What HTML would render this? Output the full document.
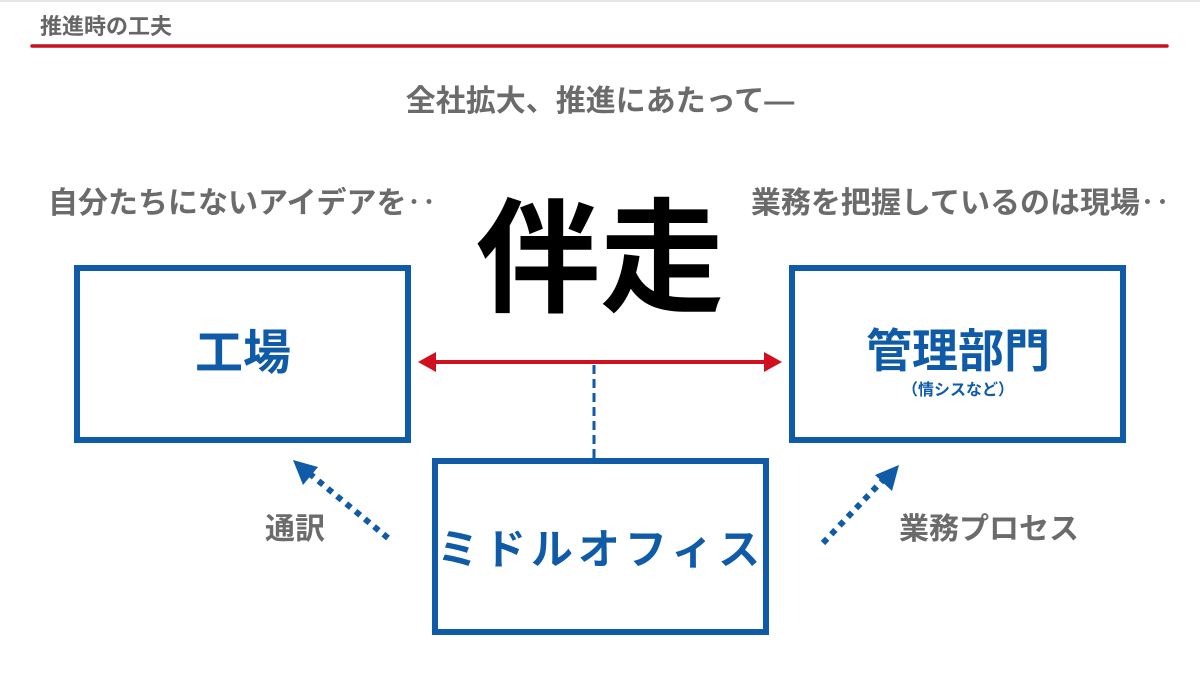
<!DOCTYPE html>
<html><head><meta charset="utf-8"><style>
html,body{margin:0;padding:0;background:#fff;}
svg{display:block;font-family:"Liberation Sans","Noto Sans CJK JP",sans-serif;}
</style></head><body>
<svg width="1200" height="675" viewBox="0 0 1200 675" xmlns="http://www.w3.org/2000/svg">
<rect x="0" y="0" width="1200" height="675" fill="#fff"/>
<line x1="0" y1="1" x2="1200" y2="1" stroke="#e6e6e6" stroke-width="2"/>
<text x="40" y="34" font-size="22" font-weight="bold" fill="#666">推進時の工夫</text>
<line x1="32" y1="46" x2="1167" y2="46" stroke="#c8101e" stroke-width="3.5" stroke-linecap="round"/>
<text x="600" y="111" font-size="30" font-weight="bold" fill="#6b6b6b" text-anchor="middle">全社拡大、推進にあたって―</text>
<text x="48" y="213" font-size="30" font-weight="bold" fill="#6b6b6b">自分たちにないアイデアを‥</text>
<text x="1170" y="213" font-size="30" font-weight="bold" fill="#6b6b6b" text-anchor="end">業務を把握しているのは現場‥</text>
<text x="600" y="302" font-size="124" font-weight="bold" fill="#000" text-anchor="middle">伴走</text>
<g fill="none" stroke="#0f5ba8" stroke-width="6">
<rect x="77" y="268" width="331" height="172"/>
<rect x="792" y="268" width="331" height="172"/>
<rect x="435" y="461" width="331" height="171"/>
</g>
<line x1="433" y1="362" x2="767" y2="362" stroke="#d0101e" stroke-width="4"/>
<polygon points="418,362 436,352 436,372" fill="#d0101e"/>
<polygon points="782,362 764,352 764,372" fill="#d0101e"/>
<line x1="594" y1="365" x2="594" y2="459" stroke="#0f5ba8" stroke-width="3" stroke-dasharray="9,5"/>
<line x1="388" y1="538" x2="310" y2="474" stroke="#0f5ba8" stroke-width="6" stroke-dasharray="6,6"/>
<polygon points="293,460 318,467 303,485" fill="#0f5ba8"/>
<line x1="823" y1="543" x2="882" y2="481" stroke="#0f5ba8" stroke-width="6" stroke-dasharray="6,6"/>
<polygon points="899,465 892,491 875,475" fill="#0f5ba8"/>
<text x="243" y="369" font-size="48" font-weight="bold" fill="#0f5ba8" text-anchor="middle">工場</text>
<text x="958" y="367" font-size="46" font-weight="bold" fill="#0f5ba8" text-anchor="middle">管理部門</text>
<text x="958" y="395" font-size="16" font-weight="bold" fill="#0f5ba8" text-anchor="middle">（情シスなど）</text>
<text x="601" y="564" font-size="42" font-weight="bold" fill="#0f5ba8" text-anchor="middle" letter-spacing="5">ミドルオフィス</text>
<text x="295" y="539" font-size="30" font-weight="bold" fill="#6b6b6b" text-anchor="middle">通訳</text>
<text x="989" y="539" font-size="30" font-weight="bold" fill="#6b6b6b" text-anchor="middle">業務プロセス</text>
</svg>
</body></html>
